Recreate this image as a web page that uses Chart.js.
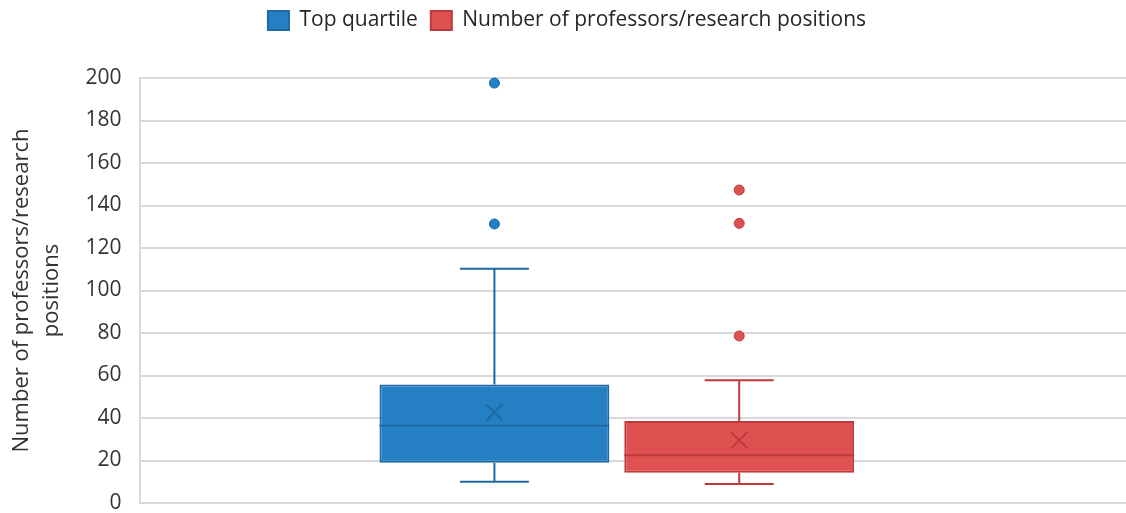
<!DOCTYPE html>
<html>
<head>
<meta charset="utf-8">
<script src="https://cdn.jsdelivr.net/npm/chart.js@4/dist/chart.umd.min.js"></script>
<style>
  html, body { margin: 0; padding: 0; background: #ffffff; }
  #wrap { width: 1126px; height: 513px; position: relative; }
</style>
</head>
<body>
<div id="wrap"><canvas id="c"></canvas></div>
<script>
// ---- data ----
const categories   = ['Top quartile', 'Number of professors/research positions'];
const whiskerLow   = [10.0, 9.0];
const q1           = [19.0, 14.2];
const median       = [36.3, 22.5];
const q3           = [55.8, 38.6];
const whiskerHigh  = [110.2, 57.8];
const means        = [42.6, 29.6];
const outliers     = [[131.3, 197.6], [78.6, 131.6, 147.3]];
const yMin = 0, yMax = 200, yStep = 20;
const yTitle = ['Number of professors/research', 'positions'];

const fills   = ['#2580C3', '#DF5050'];
const borders = ['#1E69A2', '#BE3A3A'];

const FONT = "'Open Sans', 'DejaVu Sans', sans-serif";

// box-plot extras: whiskers, median, mean marker, outliers
const boxExtras = {
  id: 'boxExtras',
  afterDatasetsDraw(chart) {
    const ctx = chart.ctx;
    const y = chart.scales.y;
    chart.data.datasets.forEach((ds, i) => {
      const meta = chart.getDatasetMeta(i);
      const el = meta.data[0];
      if (!el) return;
      const x = el.x, w = el.width;
      const cap = w * 0.15;
      ctx.save();
      ctx.strokeStyle = borders[i];
      ctx.lineWidth = 2;
      ctx.lineCap = 'butt';
      ctx.beginPath();
      // upper whisker
      ctx.moveTo(x, y.getPixelForValue(q3[i]));
      ctx.lineTo(x, y.getPixelForValue(whiskerHigh[i]));
      ctx.moveTo(x - cap, y.getPixelForValue(whiskerHigh[i]));
      ctx.lineTo(x + cap, y.getPixelForValue(whiskerHigh[i]));
      // lower whisker
      ctx.moveTo(x, y.getPixelForValue(q1[i]));
      ctx.lineTo(x, y.getPixelForValue(whiskerLow[i]));
      ctx.moveTo(x - cap, y.getPixelForValue(whiskerLow[i]));
      ctx.lineTo(x + cap, y.getPixelForValue(whiskerLow[i]));
      // median
      ctx.moveTo(x - w / 2, y.getPixelForValue(median[i]));
      ctx.lineTo(x + w / 2, y.getPixelForValue(median[i]));
      ctx.stroke();
      // mean X
      const my = y.getPixelForValue(means[i]);
      const s = 8;
      ctx.beginPath();
      ctx.moveTo(x - s, my - s); ctx.lineTo(x + s, my + s);
      ctx.moveTo(x + s, my - s); ctx.lineTo(x - s, my + s);
      ctx.stroke();
      // outliers
      ctx.fillStyle = fills[i];
      ctx.lineWidth = 1;
      outliers[i].forEach(v => {
        ctx.beginPath();
        ctx.arc(x, y.getPixelForValue(v), 5, 0, Math.PI * 2);
        ctx.fill();
        ctx.stroke();
      });
      ctx.restore();
    });
  }
};

// extend horizontal gridlines to the right edge of the canvas
const gridExtend = {
  id: 'gridExtend',
  beforeDatasetsDraw(chart) {
    const ctx = chart.ctx, y = chart.scales.y, a = chart.chartArea;
    ctx.save();
    ctx.strokeStyle = '#D9D9D9';
    ctx.lineWidth = 2;
    y.ticks.forEach(t => {
      const py = Math.round(y.getPixelForValue(t.value));
      ctx.beginPath();
      ctx.moveTo(a.right, py);
      ctx.lineTo(chart.width, py);
      ctx.stroke();
    });
    ctx.restore();
  }
};

// legend spacing and horizontal placement
const legendSpacer = {
  id: 'legendSpacer',
  beforeInit(chart) {
    const fit = chart.legend.fit;
    chart.legend.fit = function () { fit.bind(chart.legend)(); this.height += 37; };
  },
  afterLayout(chart) {
    chart.legend.left += 17;
    chart.legend.right += 17;
  }
};

new Chart(document.getElementById('c'), {
  type: 'bar',
  data: {
    labels: [''],
    datasets: categories.map((name, i) => ({
      label: name,
      data: [[q1[i], q3[i]]],
      backgroundColor: fills[i],
      borderColor: borders[i],
      borderWidth: 2,
      borderSkipped: false,
      categoryPercentage: 0.513,
      barPercentage: 0.939
    }))
  },
  options: {
    responsive: true,
    maintainAspectRatio: false,
    animation: false,
    layout: { padding: { left: 6, right: 32, top: -3, bottom: 0 } },
    plugins: {
      tooltip: { enabled: false },
      legend: {
        position: 'top',
        labels: {
          font: { family: FONT, size: 21 },
          color: '#262626',
          boxWidth: 21,
          boxHeight: 19,
          padding: 13
        }
      }
    },
    scales: {
      x: { display: false },
      y: {
        min: yMin, max: yMax,
        afterFit(scale) { scale.paddingBottom = 10; },
        ticks: { stepSize: yStep, font: { family: FONT, size: 21 }, color: '#333333', padding: 18 },
        grid: { color: '#D9D9D9', lineWidth: 2, drawTicks: false },
        border: { display: true, color: '#D9D9D9', width: 2 },
        title: {
          display: true,
          text: yTitle,
          font: { family: FONT, size: 22, lineHeight: 1.4 },
          color: '#333333',
          padding: { top: 0, bottom: 0 }
        }
      }
    }
  },
  plugins: [boxExtras, gridExtend, legendSpacer]
});
</script>
</body>
</html>
